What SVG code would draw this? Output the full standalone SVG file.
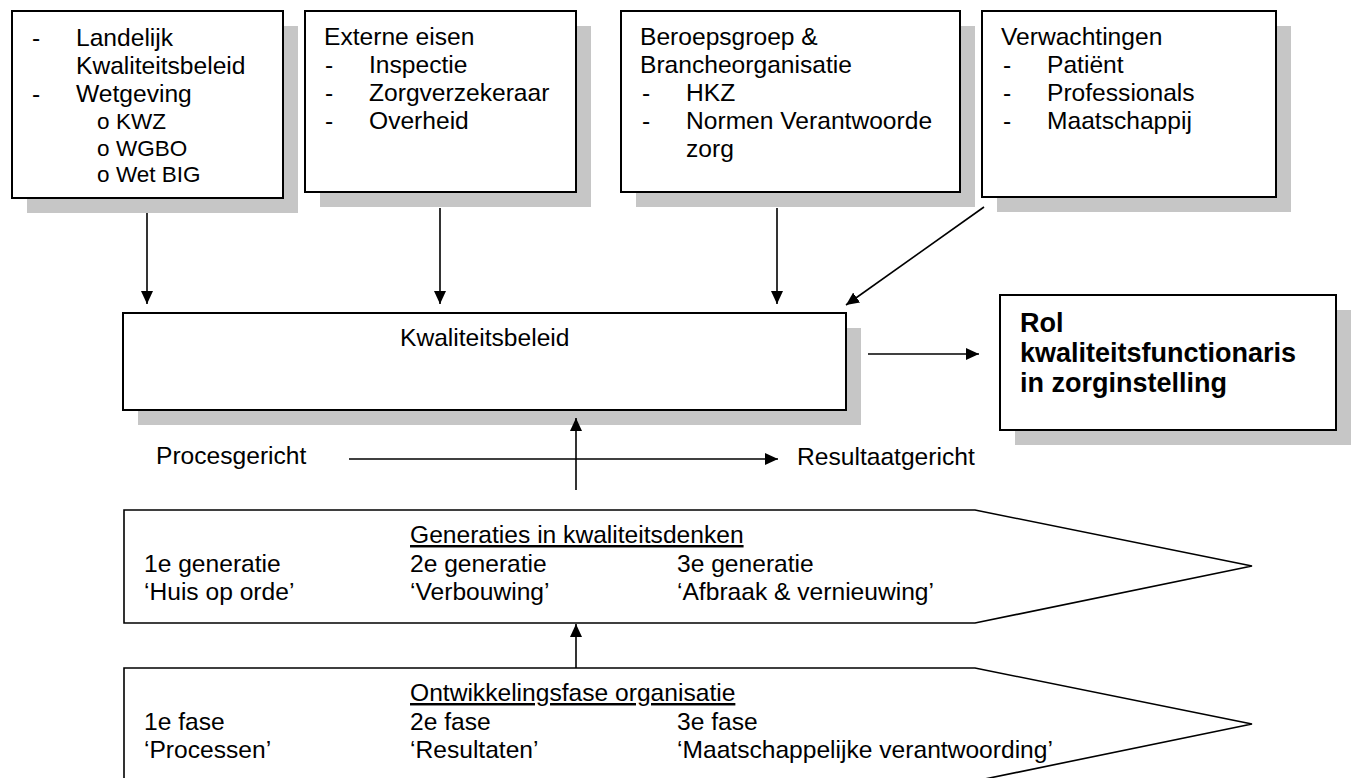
<svg xmlns="http://www.w3.org/2000/svg" width="1361" height="778" viewBox="0 0 1361 778">
<defs>
<style>
text{font-family:"Liberation Sans",Arial,sans-serif;font-size:24.6px;fill:#000}
.sub{font-size:22.5px}
.b{font-weight:bold;font-size:27px}
.box{fill:#fff;stroke:#000;stroke-width:2}
.shadow{fill:#c6c6c6}
.pent{fill:#fff;stroke:#000;stroke-width:1.6}
.con{stroke:#000;stroke-width:1.6;fill:none}
.u{text-decoration:underline}
</style>
<marker id="ah" markerUnits="userSpaceOnUse" markerWidth="14" markerHeight="12" refX="13" refY="6" orient="auto">
<path d="M0,0 L13,6 L0,12 Z" fill="#000"/>
</marker>
</defs>
<rect width="1361" height="778" fill="#fff"/>

<g id="node-landelijk">
<rect class="shadow" x="27" y="26" width="271" height="187"/>
<rect class="box" x="12" y="11" width="271" height="187"/>
<text x="32" y="46">-</text><text x="76" y="46">Landelijk</text>
<text x="76" y="74">Kwaliteitsbeleid</text>
<text x="32" y="102">-</text><text x="76" y="102">Wetgeving</text>
<text class="sub" x="97" y="129">o</text><text class="sub" x="116" y="129">KWZ</text>
<text class="sub" x="97" y="156">o</text><text class="sub" x="116" y="156">WGBO</text>
<text class="sub" x="97" y="182">o</text><text class="sub" x="116" y="182">Wet BIG</text>
</g>

<g id="node-extern">
<rect class="shadow" x="320" y="26" width="271" height="181"/>
<rect class="box" x="305" y="11" width="271" height="181"/>
<text x="324" y="45">Externe eisen</text>
<text x="325" y="73">-</text><text x="369" y="73">Inspectie</text>
<text x="325" y="101">-</text><text x="369" y="101">Zorgverzekeraar</text>
<text x="325" y="129">-</text><text x="369" y="129">Overheid</text>
</g>

<g id="node-beroeps">
<rect class="shadow" x="636" y="26" width="339" height="181"/>
<rect class="box" x="621" y="11" width="339" height="181"/>
<text x="640" y="45">Beroepsgroep &amp;</text>
<text x="640" y="73">Brancheorganisatie</text>
<text x="642" y="101">-</text><text x="686" y="101">HKZ</text>
<text x="642" y="129">-</text><text x="686" y="129">Normen Verantwoorde</text>
<text x="686" y="157">zorg</text>
</g>

<g id="node-verwachtingen">
<rect class="shadow" x="997" y="26" width="294" height="186"/>
<rect class="box" x="982" y="11" width="294" height="186"/>
<text x="1001" y="45">Verwachtingen</text>
<text x="1003" y="73">-</text><text x="1047" y="73">Patiënt</text>
<text x="1003" y="101">-</text><text x="1047" y="101">Professionals</text>
<text x="1003" y="129">-</text><text x="1047" y="129">Maatschappij</text>
</g>

<g id="node-kwaliteitsbeleid">
<rect class="shadow" x="138" y="328" width="723" height="97"/>
<rect class="box" x="123" y="313" width="723" height="97"/>
<text x="400" y="346">Kwaliteitsbeleid</text>
</g>

<g id="node-rol">
<rect class="shadow" x="1015" y="310" width="336" height="135"/>
<rect class="box" x="1000" y="295" width="336" height="135"/>
<text class="b" x="1020" y="332">Rol</text>
<text class="b" x="1020" y="362">kwaliteitsfunctionaris</text>
<text class="b" x="1020" y="392">in zorginstelling</text>
</g>

<g id="node-procesgericht">
<text x="156" y="464">Procesgericht</text>
</g>
<g id="node-resultaatgericht">
<text x="797" y="465">Resultaatgericht</text>
</g>

<g id="node-generaties">
<polygon class="pent" points="124,510 975,510 1252,566 975,623 124,623"/>
<text class="u" x="410" y="543">Generaties in kwaliteitsdenken</text>
<text x="144" y="572">1e generatie</text>
<text x="144" y="600">‘Huis op orde’</text>
<text x="410" y="572">2e generatie</text>
<text x="410" y="600">‘Verbouwing’</text>
<text x="677" y="572">3e generatie</text>
<text x="677" y="600">‘Afbraak &amp; vernieuwing’</text>
</g>

<g id="node-ontwikkeling">
<polygon class="pent" points="124,668 975,668 1252,724 975,781 124,781"/>
<text class="u" x="410" y="701">Ontwikkelingsfase organisatie</text>
<text x="144" y="730">1e fase</text>
<text x="144" y="758">‘Processen’</text>
<text x="410" y="730">2e fase</text>
<text x="410" y="758">‘Resultaten’</text>
<text x="677" y="730">3e fase</text>
<text x="677" y="758">‘Maatschappelijke verantwoording’</text>
</g>

<g id="connectors">
<line class="con" x1="147" y1="213" x2="147" y2="304" marker-end="url(#ah)"/>
<line class="con" x1="440" y1="208" x2="440" y2="304" marker-end="url(#ah)"/>
<line class="con" x1="777" y1="208" x2="777" y2="304" marker-end="url(#ah)"/>
<line class="con" x1="984" y1="207" x2="846" y2="305" marker-end="url(#ah)"/>
<line class="con" x1="868" y1="354" x2="979" y2="354" marker-end="url(#ah)"/>
<line class="con" x1="349" y1="459" x2="778" y2="459" marker-end="url(#ah)"/>
<line class="con" x1="576" y1="490" x2="576" y2="418" marker-end="url(#ah)"/>
<line class="con" x1="576" y1="668" x2="576" y2="624" marker-end="url(#ah)"/>
</g>
</svg>
